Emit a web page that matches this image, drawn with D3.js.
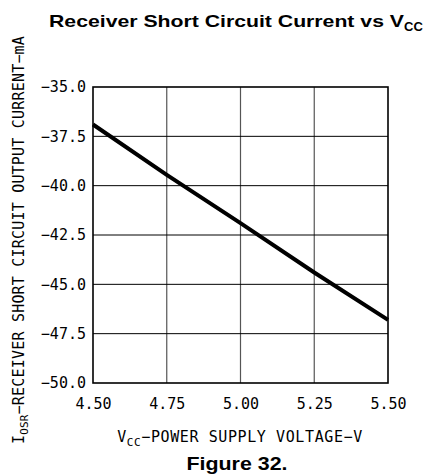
<!DOCTYPE html>
<html>
<head>
<meta charset="utf-8">
<script src="https://cdn.jsdelivr.net/npm/d3@7"></script>
<style>
  body { margin: 0; background: #fff; }
  svg { display: block; }
</style>
</head>
<body>
<svg class="chart" width="434" height="475"></svg>
<script>
// supply voltage (V) and short circuit current (mA)
var vcc = [4.50, 4.75, 5.00, 5.25, 5.50];
var iosr = [-36.9, -39.45, -41.9, -44.4, -46.8];
var xTicks = [4.50, 4.75, 5.00, 5.25, 5.50];
var yTicks = [-35.0, -37.5, -40.0, -42.5, -45.0, -47.5, -50.0];

var svg = d3.select(".chart"),
    margin = {top: 87, left: 93},
    width = 295,
    height = 296,
    g = svg.append("g").attr("transform", "translate(" + margin.left + "," + margin.top + ")");

var x = d3.scaleLinear().domain([4.5, 5.5]).range([0, width]),
    y = d3.scaleLinear().domain([-50, -35]).range([height, 0]);

var monoFont = "'DejaVu Sans Mono', monospace";
var boldFont = "'Liberation Sans', Arial, sans-serif";

// grid
g.selectAll(".vgrid")
    .data(xTicks.slice(1, -1))
    .enter().append("line")
    .attr("x1", function(d) { return x(d); })
    .attr("x2", function(d) { return x(d); })
    .attr("y1", 0)
    .attr("y2", height)
    .style("stroke", "#555")
    .style("stroke-width", 1.2);

g.selectAll(".hgrid")
    .data(yTicks.slice(1, -1))
    .enter().append("line")
    .attr("x1", 0)
    .attr("x2", width)
    .attr("y1", function(d) { return y(d); })
    .attr("y2", function(d) { return y(d); })
    .style("stroke", "#000")
    .style("stroke-width", 1);

// axes (labels only, frame drawn below)
var xAxis = g.append("g")
    .attr("transform", "translate(0," + height + ")")
    .call(d3.axisBottom(x).tickValues(xTicks).tickSize(0).tickPadding(15).tickFormat(d3.format(".2f")));
var yAxis = g.append("g")
    .call(d3.axisLeft(y).tickValues(yTicks).tickSize(0).tickPadding(7).tickFormat(d3.format(".1f")));

[xAxis, yAxis].forEach(function(a) {
    a.select(".domain").remove();
    a.selectAll("text")
        .style("font-family", monoFont)
        .style("font-size", "15px")
        .style("fill", "#000");
});

g.append("rect")
    .attr("width", width)
    .attr("height", height)
    .style("fill", "none")
    .style("stroke", "#000")
    .style("stroke-width", 1.6);

// curve
var line = d3.line()
    .x(function(d, i) { return x(vcc[i]); })
    .y(function(d) { return y(d); });

g.append("path")
    .datum(iosr)
    .attr("d", line)
    .style("fill", "none")
    .style("stroke", "#000")
    .style("stroke-width", 4);

// title
var title = svg.append("text")
    .attr("x", 49)
    .attr("y", 27)
    .style("font-family", boldFont)
    .style("font-weight", "bold")
    .style("font-size", "17px");
title.append("tspan")
    .attr("textLength", 355)
    .attr("lengthAdjust", "spacingAndGlyphs")
    .text("Receiver Short Circuit Current vs V");
title.append("tspan")
    .attr("dy", 4)
    .style("font-size", "13px")
    .text("CC");

// x label
var xLabel = svg.append("text")
    .attr("x", 240)
    .attr("y", 442)
    .attr("text-anchor", "middle")
    .style("font-family", monoFont)
    .style("font-size", "15px")
    .style("letter-spacing", "0.6px");
xLabel.append("tspan").text("V");
xLabel.append("tspan").attr("dy", 4).style("font-size", "11px").text("CC");
xLabel.append("tspan").attr("dy", -4).text("\u2212POWER SUPPLY VOLTAGE\u2212V");

// y label
var yLabel = svg.append("text")
    .attr("transform", "translate(24," + (margin.top + height / 2 + 5) + ") rotate(-90)")
    .attr("text-anchor", "middle")
    .style("font-family", monoFont)
    .style("font-size", "15px")
    .style("letter-spacing", "0.2px");
yLabel.append("tspan").text("I");
yLabel.append("tspan").attr("dy", 4).style("font-size", "11px").text("OSR");
yLabel.append("tspan").attr("dy", -4).text("\u2212RECEIVER SHORT CIRCUIT OUTPUT CURRENT\u2212mA");

// caption
svg.append("text")
    .attr("x", 237)
    .attr("y", 470)
    .attr("text-anchor", "middle")
    .attr("textLength", 101)
    .attr("lengthAdjust", "spacingAndGlyphs")
    .style("font-family", boldFont)
    .style("font-weight", "bold")
    .style("font-size", "18px")
    .text("Figure 32.");
</script>
</body>
</html>
